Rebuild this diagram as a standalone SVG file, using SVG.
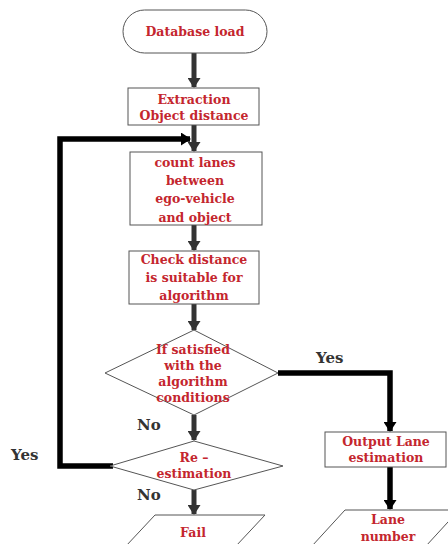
<svg xmlns="http://www.w3.org/2000/svg" width="448" height="544" viewBox="0 0 448 544">
<defs>
<style>
.box{fill:#fff;stroke:#555;stroke-width:1}
.t{font-family:"DejaVu Serif","Liberation Serif",serif;font-weight:bold;font-size:12.5px;fill:#c4262e;text-anchor:middle}
.lbl{font-family:"DejaVu Serif","Liberation Serif",serif;font-weight:bold;font-size:15px;fill:#333}
.a{fill:none;stroke:#333;stroke-width:5}
.b{fill:none;stroke:#000;stroke-width:5.5}
</style>
<marker id="ha" markerUnits="userSpaceOnUse" markerWidth="10" markerHeight="13" refX="9" refY="6.5" orient="auto" viewBox="0 0 10 13">
<path d="M0,0 L10,6.5 L0,13 Z" fill="#333"/>
</marker>
<marker id="hb" markerUnits="userSpaceOnUse" markerWidth="10" markerHeight="13" refX="9" refY="6.5" orient="auto" viewBox="0 0 10 13">
<path d="M0,0 L10,6.5 L0,13 Z" fill="#000"/>
</marker>
</defs>
<g id="connectors">
<path class="a" d="M194,53 V87" marker-end="url(#ha)"/>
<path class="a" d="M194,125 V151" marker-end="url(#ha)"/>
<path class="a" d="M194,225 V250" marker-end="url(#ha)"/>
<path class="a" d="M194,304 V330" marker-end="url(#ha)"/>
<path class="a" d="M194,415 V440" marker-end="url(#ha)"/>
<path class="a" d="M194,490 V514" marker-end="url(#ha)"/>
<path class="b" d="M278,373 H390 V431" marker-end="url(#hb)"/>
<path class="b" d="M390,467 V509" marker-end="url(#hb)"/>
<path class="b" d="M113,466 H60 V139 H190" marker-end="url(#hb)"/>
</g>
<g id="n1">
<rect class="box" x="123" y="10" width="144" height="43" rx="21.5"/>
<text class="t" x="195" y="36">Database load</text>
</g>
<g id="n2">
<rect class="box" x="128" y="88" width="131" height="37"/>
<text class="t" x="194" y="104">Extraction</text>
<text class="t" x="194" y="120">Object distance</text>
</g>
<g id="n3">
<rect class="box" x="130" y="152" width="132" height="73"/>
<text class="t" x="195" y="167">count lanes</text>
<text class="t" x="195" y="185">between</text>
<text class="t" x="195" y="203">ego-vehicle</text>
<text class="t" x="195" y="222">and object</text>
</g>
<g id="n4">
<rect class="box" x="129" y="251" width="130" height="53"/>
<text class="t" x="194" y="264">Check  distance</text>
<text class="t" x="194" y="282">is suitable for</text>
<text class="t" x="194" y="300">algorithm</text>
</g>
<g id="n5">
<polygon class="box" points="194,330 278,373 194,415 105,373"/>
<text class="t" x="193" y="354">If satisfied</text>
<text class="t" x="193" y="370">with the</text>
<text class="t" x="193" y="386">algorithm</text>
<text class="t" x="193" y="402">conditions</text>
</g>
<g id="n6">
<polygon class="box" points="194,441 283,466 194,490 110,466"/>
<text class="t" x="194" y="462">Re –</text>
<text class="t" x="194" y="478">estimation</text>
</g>
<g id="n7">
<polygon class="box" points="155,515 265,515 236,546 126,546"/>
<text class="t" x="193" y="537">Fail</text>
</g>
<g id="n8">
<rect class="box" x="325" y="432" width="121" height="35"/>
<text class="t" x="386" y="446">Output Lane</text>
<text class="t" x="386" y="462">estimation</text>
</g>
<g id="n9">
<polygon class="box" points="345,510 459,510 426,546 312,546"/>
<text class="t" x="388" y="524">Lane</text>
<text class="t" x="388" y="541">number</text>
</g>
<g id="labels">
<text class="lbl" x="316" y="363">Yes</text>
<text class="lbl" x="137" y="430">No</text>
<text class="lbl" x="137" y="500">No</text>
<text class="lbl" x="11" y="460">Yes</text>
</g>
</svg>
